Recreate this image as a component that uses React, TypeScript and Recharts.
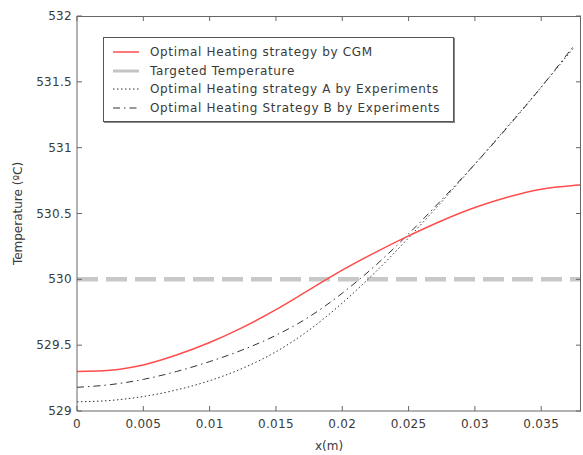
import { LineChart, Line, XAxis, YAxis, ReferenceLine, Legend } from 'recharts'

// x positions along the part (m)
const xs = [0, 0.0025, 0.005, 0.0075, 0.01, 0.0125, 0.015, 0.0175, 0.02, 0.0225, 0.025, 0.0275, 0.03, 0.0325, 0.035, 0.0375, 0.038]
const cgm = [529.3, 529.31, 529.35, 529.425, 529.52, 529.635, 529.77, 529.92, 530.07, 530.205, 530.33, 530.445, 530.545, 530.625, 530.685, 530.714, 530.718]
const expA = [529.07, 529.08, 529.11, 529.16, 529.23, 529.325, 529.45, 529.615, 529.82, 530.055, 530.315, 530.59, 530.875, 531.165, 531.46, 531.765, null]
const expB = [529.18, 529.2, 529.24, 529.3, 529.375, 529.465, 529.575, 529.715, 529.895, 530.105, 530.345, 530.605, 530.875, 531.16, 531.46, 531.78, null]
const targetTemp = 530

const xTicks = [0, 0.005, 0.01, 0.015, 0.02, 0.025, 0.03, 0.035]
const yTicks = [529, 529.5, 530, 530.5, 531, 531.5, 532]
const xMax = 0.038
const yMin = 529
const yMax = 532

const legendItems = [
  { label: 'Optimal Heating strategy by CGM', color: '#ff4d4d', width: 1.5, dash: undefined },
  { label: 'Targeted Temperature', color: '#c4c4c4', width: 3, dash: undefined },
  { label: 'Optimal Heating strategy A by Experiments', color: '#333', width: 1, dash: '1.5 2.5' },
  { label: 'Optimal Heating Strategy B by Experiments', color: '#333', width: 1, dash: '7 4 1.5 4' },
]

const data = xs.map((x, i) => ({ x, cgm: cgm[i], a: expA[i], b: expB[i] }))

const W = 583
const H = 455
const margin = { top: 16, right: 2, bottom: 0, left: 0 }
const yAxisWidth = 77
const xAxisHeight = 44
const plotTop = margin.top
const plotRight = W - margin.right
const plotLeft = margin.left + yAxisWidth
const plotBottom = H - margin.bottom - xAxisHeight

const font = '"DejaVu Sans", sans-serif'
const axisColor = '#666'
const textColor = '#3a3a3a'

const fmtX = (v: number) => (v === 0 ? '0' : String(v))

// label under the axis, plus the mirrored inward tick on the top edge
function BottomTick(props: any) {
  const { x, y, payload } = props
  return (
    <g>
      <path d={`M${x},${plotTop}V${plotTop + 5}`} stroke={axisColor} strokeWidth={1} fill="none" />
      <text x={x} y={y + 17} textAnchor="middle" fontSize={12} letterSpacing={0.3} fontFamily={font} fill={textColor}>
        {fmtX(payload.value)}
      </text>
    </g>
  )
}

// label left of the axis, plus the mirrored inward tick on the right edge
function LeftTick(props: any) {
  const { x, y, payload } = props
  return (
    <g>
      <path d={`M${plotRight},${y}H${plotRight - 5}`} stroke={axisColor} strokeWidth={1} fill="none" />
      <text x={x - 5} y={y + 4} textAnchor="end" fontSize={12} letterSpacing={0.3} fontFamily={font} fill={textColor}>
        {payload.value}
      </text>
    </g>
  )
}

function LegendBox() {
  return (
    <div
      style={{
        width: 349,
        height: 78,
        border: '1px solid #555',
        boxShadow: '1px 1px 0 #888',
        background: '#fff',
        paddingTop: 5,
        boxSizing: 'content-box',
        fontFamily: font,
        fontSize: 12,
        letterSpacing: 0.65,
        color: textColor,
      }}
    >
      {legendItems.map((it) => (
        <div key={it.label} style={{ height: 18.5, display: 'flex', alignItems: 'center' }}>
          <svg width={46} height={18} style={{ flex: 'none' }}>
            <line x1={9} x2={35} y1={9} y2={9} stroke={it.color} strokeWidth={it.width} strokeDasharray={it.dash} />
          </svg>
          <span style={{ whiteSpace: 'nowrap' }}>{it.label}</span>
        </div>
      ))}
    </div>
  )
}

export default function App() {
  return (
    <div style={{ position: 'absolute', left: 0, top: 0, width: W, height: H, background: '#fff' }}>
      <LineChart width={W} height={H} data={data} margin={margin}>
        <XAxis
          dataKey="x"
          type="number"
          domain={[0, xMax]}
          allowDataOverflow
          ticks={xTicks}
          tick={<BottomTick />}
          tickSize={-5}
          tickMargin={5}
          height={xAxisHeight}
          stroke={axisColor}
          label={{ value: 'x(m)', position: 'insideBottom', offset: 5, style: { fontFamily: font, fontSize: 12, fill: textColor } }}
        />
        <YAxis
          type="number"
          domain={[yMin, yMax]}
          allowDataOverflow
          ticks={yTicks}
          tick={<LeftTick />}
          tickSize={-5}
          tickMargin={5}
          width={yAxisWidth}
          stroke={axisColor}
          label={{
            value: 'Temperature (ºC)',
            angle: -90,
            position: 'insideLeft',
            offset: 18,
            style: { textAnchor: 'middle', fontFamily: font, fontSize: 12, fill: textColor },
          }}
        />
        <ReferenceLine y={targetTemp} stroke="#c8c8c8" strokeWidth={4.5} strokeDasharray="21 8" />
        <Line dataKey="a" type="monotone" stroke="#333" strokeWidth={1} strokeDasharray="1.5 2.5" dot={false} isAnimationActive={false} />
        <Line dataKey="b" type="monotone" stroke="#333" strokeWidth={1} strokeDasharray="7 4 1.5 4" dot={false} isAnimationActive={false} />
        <Line dataKey="cgm" type="monotone" stroke="#ff4d4d" strokeWidth={1.5} dot={false} isAnimationActive={false} />
        <Legend
          layout="vertical"
          align="center"
          verticalAlign="middle"
          content={<LegendBox />}
          wrapperStyle={{ left: 103, top: 37, width: 351, height: 84 }}
        />
      </LineChart>
      {/* top and right edges of the axes box */}
      <div
        style={{
          position: 'absolute',
          left: plotLeft,
          top: plotTop,
          width: plotRight - plotLeft,
          height: plotBottom - plotTop,
          borderTop: `1px solid ${axisColor}`,
          borderRight: `1px solid ${axisColor}`,
          boxSizing: 'border-box',
          pointerEvents: 'none',
        }}
      />
    </div>
  )
}
